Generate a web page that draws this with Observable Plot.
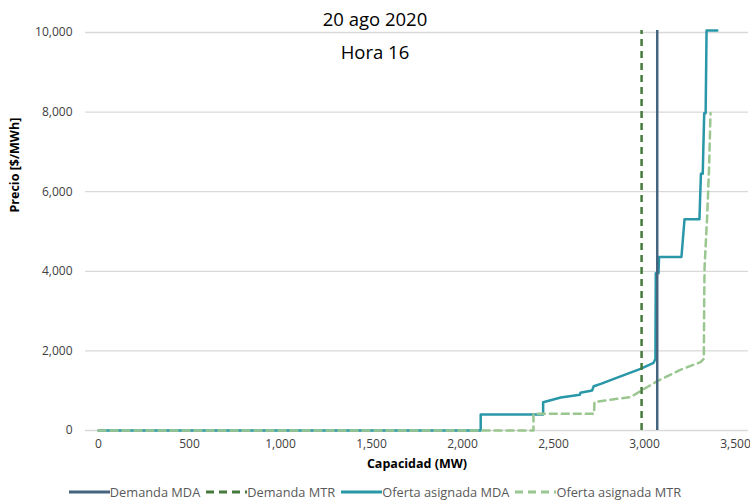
<!DOCTYPE html>
<html>
<head>
<meta charset="utf-8">
<script src="https://cdn.jsdelivr.net/npm/d3@7"></script>
<script src="https://cdn.jsdelivr.net/npm/@observablehq/plot@0.6"></script>
<style>
  html, body { margin: 0; padding: 0; background: #fff; }
  #wrap { position: relative; width: 750px; height: 501px; font-family: "Open Sans", sans-serif; }
  .title { position: absolute; left: 0; width: 750px; text-align: center; font-size: 18.5px; color: #000; line-height: 22px; }
  #legend { position: absolute; left: 0; top: 482px; width: 750px; display: flex; justify-content: center; align-items: center; font-size: 12.8px; color: #595959; line-height: 20px; }
  #legend .item { display: flex; align-items: center; margin: 0 3px; }
</style>
</head>
<body>
<div id="wrap">
  <div id="chart"></div>
  <div class="title" style="top:8px">20 ago 2020</div>
  <div class="title" style="top:41px">Hora 16</div>
  <div id="legend"></div>
</div>
<script>
// ---- data ----
const xTicks = [0, 500, 1000, 1500, 2000, 2500, 3000, 3500];
const yTicks = [0, 2000, 4000, 6000, 8000, 10000];

const ofertaMDA_x = [0, 2100, 2100, 2443, 2443, 2540, 2645, 2648, 2712, 2721, 2760, 2850, 2978, 3050, 3060, 3062, 3077, 3080, 3203, 3220, 3302, 3310, 3320, 3328, 3336, 3341, 3400];
const ofertaMDA_y = [0, 0, 402, 402, 711, 830, 897, 947, 1005, 1113, 1173, 1330, 1549, 1700, 1801, 3950, 3950, 4360, 4360, 5310, 5310, 6450, 6450, 7970, 7970, 10050, 10050];

const ofertaMTR_x = [0, 2390, 2390, 2723, 2725, 2790, 2923, 2978, 3070, 3200, 3308, 3326, 3328, 3330, 3344, 3355, 3362, 3363];
const ofertaMTR_y = [0, 0, 420, 420, 711, 760, 838, 990, 1240, 1530, 1716, 1801, 3266, 4100, 5360, 6620, 7870, 7970];

const demandaMDA = 3070;
const demandaMTR = 2984;
const demandaTop = 10050;

const series = ["Demanda MDA", "Demanda MTR", "Oferta asignada MDA", "Oferta asignada MTR"];
const colors = ["#44647F", "#467A3C", "#2997A8", "#9AC68F"];
const dashes = [null, "7,5", null, "7,5"];

// ---- build ----
const ofertaMDA = ofertaMDA_x.map((x, i) => ({x, y: ofertaMDA_y[i]}));
const ofertaMTR = ofertaMTR_x.map((x, i) => ({x, y: ofertaMTR_y[i]}));

const fmt = d3.format(",");

const chart = Plot.plot({
  width: 750,
  height: 480,
  marginLeft: 85,
  marginRight: 2,
  marginTop: 32,
  marginBottom: 50,
  style: {fontFamily: "Open Sans, sans-serif", fontSize: "12px", color: "#404040", background: "white"},
  x: {domain: [0, 3500], range: [98, 735]},
  y: {domain: [0, 10000]},
  marks: [
    Plot.gridY(yTicks, {stroke: "#d9d9d9", strokeOpacity: 1, strokeWidth: 1.3}),
    Plot.axisX(xTicks, {tickSize: 0, tickPadding: 9, tickFormat: fmt, label: null, fill: "#404040", fontSize: 12}),
    Plot.axisY(yTicks, {tickSize: 0, tickPadding: 13, tickFormat: fmt, label: null, fill: "#404040", fontSize: 12}),
    Plot.text(["Capacidad (MW)"], {frameAnchor: "bottom", dy: 37, fontWeight: "bold", fontSize: 12.5, fill: "#000"}),
    Plot.text(["Precio [$/MWh]"], {frameAnchor: "left", dx: -71, dy: -19, rotate: -90, fontWeight: "bold", fontSize: 12.5, fill: "#000"}),
    Plot.line(ofertaMDA, {x: "x", y: "y", stroke: colors[2], strokeWidth: 2.5}),
    Plot.line(ofertaMTR, {x: "x", y: "y", stroke: colors[3], strokeWidth: 2.5, strokeDasharray: dashes[3]}),
    Plot.ruleX([demandaMTR], {x: d => d, y1: 0, y2: demandaTop, stroke: colors[1], strokeWidth: 2.5, strokeDasharray: dashes[1]}),
    Plot.ruleX([demandaMDA], {x: d => d, y1: 0, y2: demandaTop, stroke: colors[0], strokeWidth: 2.5})
  ]
});
document.getElementById("chart").appendChild(chart);

// ---- legend ----
const legend = document.getElementById("legend");
series.forEach((name, i) => {
  const item = document.createElement("div");
  item.className = "item";
  const dash = dashes[i] ? `stroke-dasharray="8,5"` : "";
  item.innerHTML = `<svg width="41" height="10"><line x1="0" x2="41" y1="5" y2="5" stroke="${colors[i]}" stroke-width="3" ${dash}></line></svg><span>${name}</span>`;
  legend.appendChild(item);
});
</script>
</body>
</html>
